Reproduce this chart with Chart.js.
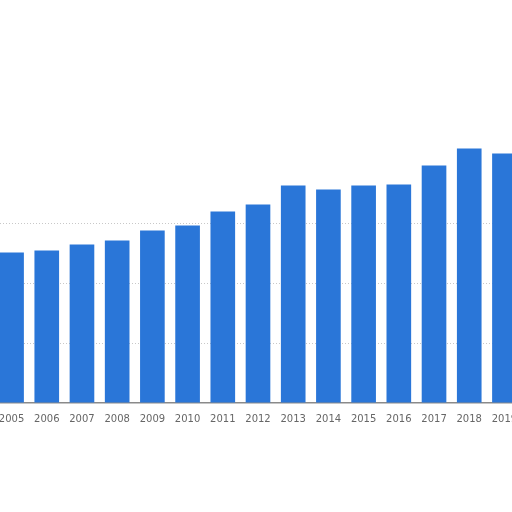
<!DOCTYPE html>
<html>
<head>
<meta charset="utf-8">
<script src="https://cdn.jsdelivr.net/npm/chart.js@4"></script>
<style>
  html, body { margin: 0; padding: 0; background: #fff; overflow: hidden; }
  body { width: 512px; height: 512px; position: relative; }
  #wrap { position: absolute; left: -11px; top: 0; width: 538px; height: 435px; }
</style>
</head>
<body>
<div id="wrap"><canvas id="yearChart"></canvas></div>
<script>
const years = ['2005', '2006', '2007', '2008', '2009', '2010', '2011', '2012',
               '2013', '2014', '2015', '2016', '2017', '2018', '2019'];
const values = [50.2, 50.8, 52.8, 54.2, 57.5, 59.2, 63.8, 66.2,
                72.5, 71.2, 72.5, 72.8, 79.2, 84.8, 83.2];
const yTicks = [0, 20, 40, 60, 80, 100];

const ctx = document.getElementById('yearChart').getContext('2d');

new Chart(ctx, {
    type: 'bar',
    data: {
        labels: years,
        datasets: [{
            data: values,
            backgroundColor: '#2a76d8',
            borderWidth: 0,
            categoryPercentage: 0.8,
            barPercentage: 0.875
        }]
    },
    options: {
        responsive: true,
        maintainAspectRatio: false,
        animation: false,
        layout: { padding: { top: 103, left: 0, right: 0, bottom: 0 } },
        plugins: {
            legend: { display: false },
            tooltip: { enabled: false }
        },
        scales: {
            x: {
                grid: { display: false, drawTicks: false },
                border: { display: true, color: '#8a8a8a', width: 1.5 },
                ticks: {
                    color: '#666666',
                    padding: 10,
                    maxRotation: 0,
                    autoSkip: false,
                    font: { family: 'DejaVu Sans', size: 10 }
                }
            },
            y: {
                display: true,
                min: yTicks[0],
                max: yTicks[yTicks.length - 1],
                afterBuildTicks: axis => { axis.ticks = yTicks.map(v => ({ value: v })); },
                ticks: { display: false },
                // in v4 border.dash sets the dash of the grid lines
                border: { display: false, dash: [1, 2] },
                grid: {
                    drawTicks: false,
                    color: c => (c.tick.value > 0 && c.tick.value <= 60) ? '#c8c8c8' : 'rgba(0,0,0,0)',
                    lineWidth: 1
                }
            }
        }
    }
});
</script>
</body>
</html>
